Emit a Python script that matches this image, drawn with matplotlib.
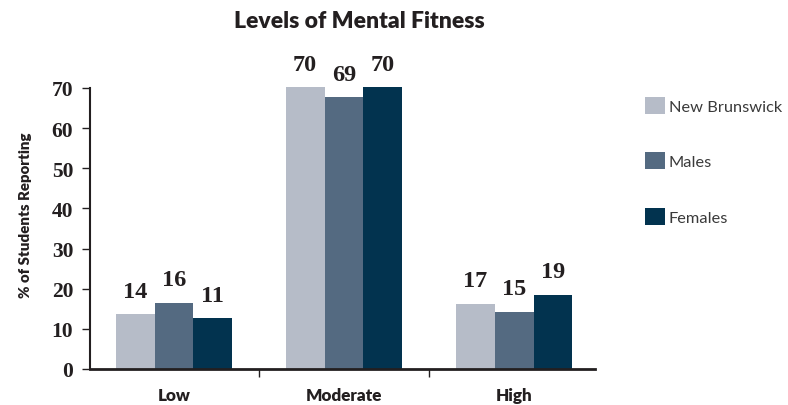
import matplotlib
matplotlib.use("Agg")
import matplotlib.pyplot as plt
import numpy as np

categories = ["Low", "Moderate", "High"]
series_names = ["New Brunswick", "Males", "Females"]
new_brunswick = [13.7, 70.2, 16.2]
males = [16.5, 67.7, 14.3]
females = [12.7, 70.2, 18.5]
nb_labels = ["14", "70", "17"]
males_labels = ["16", "69", "15"]
females_labels = ["11", "70", "19"]
yticks = [0, 10, 20, 30, 40, 50, 60, 70]
colors = ["#b6bcc8", "#546a81", "#02334f"]

fig = plt.figure(figsize=(7.88, 4.06), dpi=100)
ax = fig.add_axes([90/788, 36/406, (595-90)/788, (370-89)/406])

x = np.arange(len(categories))
w = 0.229
serif_bold = dict(family="Liberation Serif", weight="bold", color="#231f20")
for i, (vals, labs, col, name) in enumerate(zip([new_brunswick, males, females],
                                                [nb_labels, males_labels, females_labels],
                                                colors, series_names)):
    pos = x + (i - 1) * w
    bars = ax.bar(pos, vals, width=w, color=col, label=name, clip_on=False, zorder=2)
    for b, lab in zip(bars, labs):
        ax.annotate(lab, (b.get_x() + b.get_width()/2, b.get_height()),
                    xytext=(0, 9), textcoords="offset points", annotation_clip=False,
                    ha="center", va="bottom", fontsize=17.5, **serif_bold)

ax.set_ylim(0, 70)
ax.set_xlim(-0.494, 2.476)
ax.set_yticks(yticks)
ax.set_yticklabels([str(t) for t in yticks], fontsize=15.5, **serif_bold)
ax.set_xticks(x)
ax.set_xticklabels(categories, fontsize=12.3, family="Lato", weight="heavy", color="#231f20")
ax.tick_params(axis="x", which="major", length=0, pad=13)
ax.set_xticks([0.5, 1.5], minor=True)
ax.tick_params(axis="x", which="minor", length=6, width=1, color="#231f20", direction="out")
ax.tick_params(axis="y", length=6, width=1, color="#231f20", pad=6)

for s in ["top", "right"]:
    ax.spines[s].set_visible(False)
ax.spines["left"].set_linewidth(1.5)
ax.spines["bottom"].set_linewidth(2)
ax.spines["left"].set_color("#231f20")
ax.spines["bottom"].set_color("#231f20")

ax.set_ylabel("% of Students Reporting", fontsize=10.8, family="Lato", weight="heavy",
              color="#231f20", va="center")
ax.yaxis.set_label_coords(-0.128, 0.552)

fig.text(359/788, 1 - 22/406, "Levels of Mental Fitness", ha="center", va="center",
         fontsize=16.5, family="Lato", weight="heavy", color="#231f20")

leg = fig.legend(loc="upper left", bbox_to_anchor=(640/788, 1 - 93/406), frameon=False,
                 prop=dict(family="Lato", size=11.8), labelcolor="#3a3a3a",
                 handlelength=1.2, handleheight=1.2, handletextpad=0.25, labelspacing=2.35,
                 borderaxespad=0, borderpad=0.3)

fig.savefig("out.png", dpi=100)
